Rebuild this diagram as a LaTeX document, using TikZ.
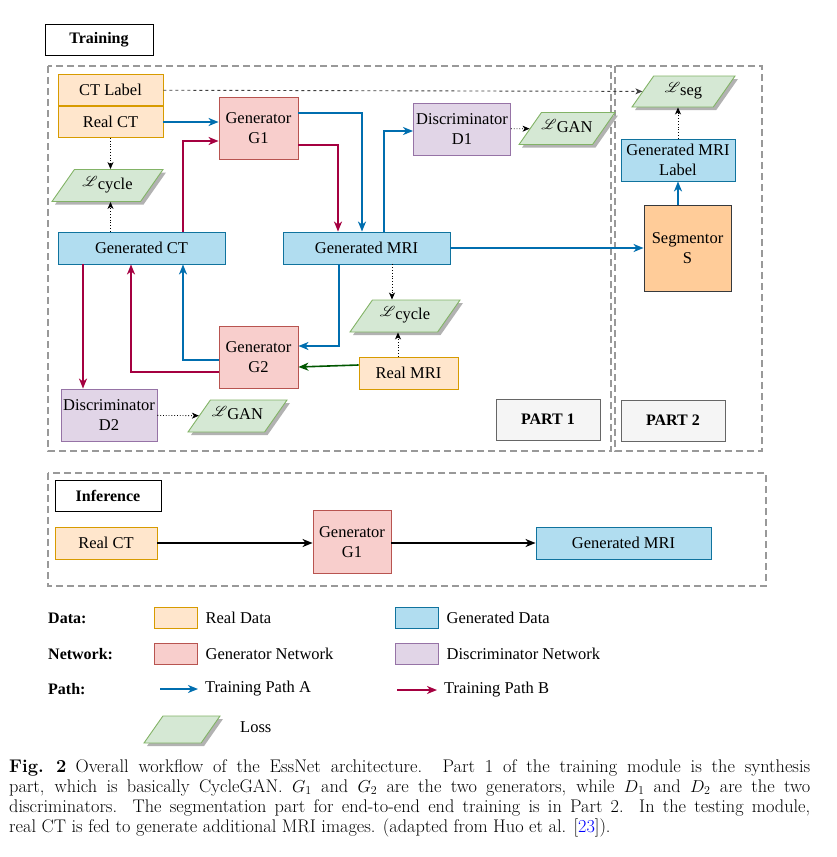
\documentclass[tikz,border=0pt]{standalone}
\usepackage{fontspec}
\usepackage{mathrsfs}
\usetikzlibrary{positioning,arrows.meta,shapes.geometric,shadows}
\newfontfamily\tms{Liberation Serif}
\definecolor{realfill}{HTML}{FFE6CC}\definecolor{realline}{HTML}{D79B00}
\definecolor{genfill}{HTML}{B1DDF0}\definecolor{genline}{HTML}{10739E}
\definecolor{gnfill}{HTML}{F8CECC}\definecolor{gnline}{HTML}{B85450}
\definecolor{dsfill}{HTML}{E1D5E7}\definecolor{dsline}{HTML}{9673A6}
\definecolor{lossfill}{HTML}{D5E8D4}\definecolor{lossline}{HTML}{82B366}
\definecolor{segfill}{HTML}{FFCC99}\definecolor{segline}{HTML}{36393D}
\definecolor{partfill}{HTML}{F5F5F5}\definecolor{partline}{HTML}{666666}
\definecolor{pathblue}{HTML}{006EAF}\definecolor{pathred}{HTML}{A50040}
\definecolor{pathgreen}{HTML}{005700}
\newcommand{\lossterm}[1]{\raisebox{3pt}{\fontsize{13.5}{14}\selectfont$\mathscr{L}$}#1}

\begin{document}
\begin{tikzpicture}[x=1pt,y=-1pt,>={Stealth[length=10pt,width=8pt,inset=3pt]},
    every node/.style={font=\tms\fontsize{16.5}{20}\selectfont,align=center,inner sep=0pt},
    realbox/.style={draw=realline,fill=realfill,line width=0.9pt},
    genbox/.style={draw=genline,fill=genfill,line width=0.9pt},
    gennet/.style={draw=gnline,fill=gnfill,line width=0.9pt},
    disnet/.style={draw=dsline,fill=dsfill,line width=0.9pt},
    segbox/.style={draw=segline,fill=segfill,line width=0.9pt},
    partbox/.style={draw=partline,fill=partfill,line width=0.9pt,font=\tms\bfseries\fontsize{16}{20}\selectfont},
    titlebox/.style={draw=black,fill=white,line width=0.9pt,font=\tms\bfseries\fontsize{16}{20}\selectfont},
    lossbox/.style={trapezium,trapezium left angle=55,trapezium right angle=125,trapezium stretches body,
        draw=lossline,fill=lossfill,line width=0.9pt,text height=11pt,text depth=4pt,inner ysep=8.5pt,
        drop shadow={shadow xshift=3pt,shadow yshift=-3pt,fill=black!30,opacity=1}},
    frame/.style={draw=black!40,dash pattern=on 7pt off 4pt,line width=1.5pt},
    pathA/.style={draw=pathblue,line width=1.6pt,->},
    pathB/.style={draw=pathred,line width=1.6pt,->},
    lossarrow/.style={draw=black,line width=0.8pt,dotted,-{Stealth[length=7pt,width=6pt,inset=2pt]}},
    labelarrow/.style={draw=black!75,line width=0.9pt,dash pattern=on 3pt off 3pt,-{Stealth[length=7pt,width=6pt,inset=2pt]}},
    legendlabel/.style={anchor=west,font=\tms\bfseries\fontsize{16}{20}\selectfont}]
    \useasboundingbox (0,0) rectangle (837,857);

    % training
    \draw [frame] (48,66) rectangle (611,451);
    \draw [frame] (615,66) rectangle (762,451);
    \node [titlebox,minimum width=108pt,minimum height=31pt] (train) at (99,39.5) {Training};

    \node [realbox,minimum width=105pt,minimum height=31pt] (rct) at (110.5,122) {Real CT};
    \node [realbox,minimum width=105pt,minimum height=31pt,above=0pt of rct] (ctl) {CT Label};
    \node [gennet,minimum width=79pt,minimum height=62pt] (g1) at (258.5,128) {Generator\\G1};
    \node [disnet,minimum width=97pt,minimum height=52pt] (d1) at (462,129) {Discriminator\\D1};
    \node [lossbox,minimum width=78pt] (lgan1) at (567,128.5) {\lossterm{GAN}};
    \node [lossbox,minimum width=103pt,inner ysep=8pt] (lseg) at (683.5,91.5) {\lossterm{seg}};
    \node [genbox,minimum width=114pt,minimum height=42pt] (gml) at (678,160) {Generated MRI\\Label};
    \node [segbox,minimum width=87pt,minimum height=86pt] (seg) at (687.5,248) {Segmentor\\S};
    \node [lossbox,minimum width=111pt] (lcyc1) at (107.5,185.5) {\lossterm{cycle}};
    \node [genbox,minimum width=167pt,minimum height=32pt] (gct) at (141.5,248) {Generated CT};
    \node [genbox,minimum width=167pt,minimum height=32pt] (gmri) at (366.5,248) {Generated MRI};
    \node [lossbox,minimum width=110pt] (lcyc2) at (405,316) {\lossterm{cycle}};
    \node [realbox,minimum width=99pt,minimum height=32pt] (rmri) at (408.5,373) {Real MRI};
    \node [gennet,minimum width=79pt,minimum height=62pt] (g2) at (258.5,357.5) {Generator\\G2};
    \node [disnet,minimum width=96pt,minimum height=52pt] (d2) at (109,415) {Discriminator\\D2};
    \node [lossbox,minimum width=99pt] (lgan2) at (237.5,416) {\lossterm{GAN}};
    \node [partbox,minimum width=104pt,minimum height=41pt] (p1) at (548,419.5) {PART 1};
    \node [partbox,minimum width=104pt,minimum height=41pt] (p2) at (673,420.5) {PART 2};

    \draw [pathA] (rct.east) -- (rct.east -| g1.west);
    \draw [pathB] ([xshift=41.5pt]gct.north) |- ([yshift=-13pt]g1.west);
    \draw [pathA] ([yshift=15pt]g1.east) -| ([xshift=-4.5pt]gmri.north);
    \draw [pathB] ([yshift=-17pt]g1.east) -| ([xshift=-28.5pt]gmri.north);
    \draw [pathA] ([xshift=17.5pt]gmri.north) |- ([yshift=-2pt]d1.west);
    \draw [lossarrow] (d1) -- (lgan1);
    \draw [labelarrow] (ctl) -- (lseg);
    \draw [pathA] (gmri) -- (seg);
    \draw [pathA] (gml.south |- seg.north) -- (gml.south);
    \draw [lossarrow] (gml.north) -- (gml.north |- lseg.south);
    \draw [lossarrow] (rct.south) -- (rct.south |- lcyc1.north);
    \draw [lossarrow] (rct.south |- gct.north) -- (rct.south |- lcyc1.south);
    \draw [pathB] ([xshift=-58.5pt]gct.south) -- ([xshift=-26pt]d2.north);
    \draw [pathB] ([yshift=-14.5pt]g2.west) -| ([xshift=-10.5pt]gct.south);
    \draw [pathA] ([yshift=-2.5pt]g2.west) -| ([xshift=41.5pt]gct.south);
    \draw [pathA] ([xshift=-27.5pt]gmri.south) |- ([yshift=11.5pt]g2.east);
    \draw [draw=pathgreen,line width=1.6pt,->] ([yshift=8pt]rmri.west) -- ([yshift=-9.5pt]g2.east);
    \draw [lossarrow] ([xshift=25.5pt]gmri.south) -- ([xshift=25.5pt]gmri.south |- lcyc2.north);
    \draw [lossarrow] ([xshift=-10.5pt]rmri.north) -- ([xshift=-10.5pt]rmri.north |- lcyc2.south);
    \draw [lossarrow] (d2) -- (lgan2);

    % inference
    \draw [frame] (48,473) rectangle (766,586);
    \node [titlebox,minimum width=106pt,minimum height=31pt] (infer) at (108,496) {Inference};
    \node [realbox,minimum width=102pt,minimum height=32pt] (irct) at (106,543) {Real CT};
    \node [gennet,minimum width=78pt,minimum height=63pt] (ig1) at (352,542) {Generator\\G1};
    \node [genbox,minimum width=175pt,minimum height=32pt] (igmri) at (623.5,543) {Generated MRI};
    \draw [line width=1.6pt,->] (irct.east) -- (irct.east -| ig1.west);
    \draw [line width=1.6pt,->] (ig1.east |- igmri) -- (igmri.west);

    % legend
    \node [legendlabel] (ldata) at (48,618) {Data:};
    \node [legendlabel] (lnet) at (48,654) {Network:};
    \node [legendlabel] (lpath) at (48,689) {Path:};
    \node [realbox,minimum width=43pt,minimum height=21pt] (kreal) at (175.5,617.5) {};
    \node [right=8pt of kreal] {Real Data};
    \node [genbox,minimum width=43pt,minimum height=21pt] (kgen) at (416.5,617.5) {};
    \node [right=8pt of kgen] {Generated Data};
    \node [gennet,minimum width=43pt,minimum height=21pt] (kgn) at (175.5,654) {};
    \node [right=8pt of kgn] {Generator Network};
    \node [disnet,minimum width=43pt,minimum height=21pt] (kdn) at (416.5,654) {};
    \node [right=8pt of kdn] {Discriminator Network};
    \coordinate (ka1) at (160,689);
    \coordinate (ka2) at (198,689);
    \coordinate (kb1) at (397,690);
    \coordinate (kb2) at (437,690);
    \draw [pathA] (ka1) -- (ka2);
    \draw [pathB] (kb1) -- (kb2);
    \node [right=7pt of ka2] {Training Path A};
    \node [right=7pt of kb2] {Training Path B};
    \node [lossbox,minimum width=76pt,inner ysep=6pt] (kloss) at (182,729.5) {};
    \node [anchor=west] at (240,727) {Loss};

    % caption
    \node [anchor=north west,text width=801pt,align=justify,font=\fontsize{18.3}{20}\selectfont] (cap) at (9,759)
      {\textbf{Fig.\ 2}\enspace Overall workflow of the EssNet architecture. Part 1 of the training module is the synthesis\linebreak
       part, which is basically CycleGAN. $G_1$ and $G_2$ are the two generators, while $D_1$ and $D_2$ are the two\linebreak
       discriminators. The segmentation part for end-to-end end training is in Part 2. In the testing module,\linebreak
       real CT is fed to generate additional MRI images. (adapted from Huo et al. [{\color{blue}23}]).};
\end{tikzpicture}
\end{document}
